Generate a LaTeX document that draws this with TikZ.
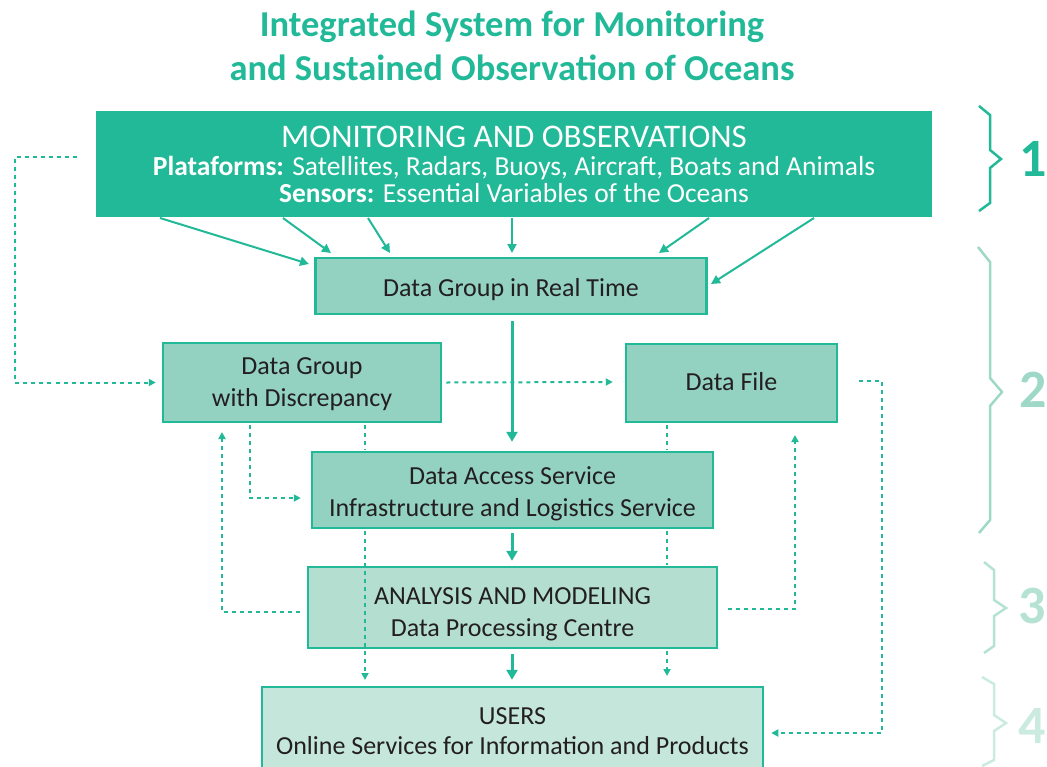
\documentclass[tikz,border=0pt]{standalone}
\usepackage{fontspec}
\setmainfont{Carlito}
\usetikzlibrary{arrows.meta,calc}
\definecolor{tealA}{HTML}{22B998}
\definecolor{boxB}{HTML}{93D2C0}
\definecolor{boxC}{HTML}{B4DFD0}
\definecolor{boxD}{HTML}{C5E7DB}
\definecolor{brB}{HTML}{9ED8C6}
\definecolor{brC}{HTML}{B6E2D4}
\definecolor{brD}{HTML}{CBEBE0}
\definecolor{txt}{HTML}{231F20}
\begin{document}
\begin{tikzpicture}[x=1pt,y=-1pt,
 box/.style={draw=tealA,line width=2.5pt,inner sep=0pt,align=center,text=txt,font=\fontsize{26}{31.5}\selectfont},
 boxtext/.style={inner sep=0pt,align=center,text=txt,font=\fontsize{26}{32}\selectfont},
 solidarr/.style={draw=tealA,line width=2pt,-{Triangle[length=9pt,width=9pt]}},
 mainarr/.style={draw=tealA,line width=3pt,-{Triangle[length=10pt,width=11pt]}},
 dotarr/.style={draw=tealA,line width=2pt,dash pattern=on 4pt off 4pt,-{Triangle[length=7pt,width=7pt]}},
 dotline/.style={draw=tealA,line width=2pt,dash pattern=on 4pt off 4pt},
 bracesty/.style={line width=2.5pt,line join=miter},
 numsty/.style={font=\fontsize{54}{56}\bfseries\selectfont},
 titlesty/.style={text=tealA,font=\fontsize{36.5}{40}\bfseries\selectfont}
]
\useasboundingbox (0,0) rectangle (1047,766);
\clip (0,0) rectangle (1047,766);

% title
\node[titlesty] (t1) at (512,27) {Integrated System for Monitoring};
\node[titlesty] (t2) at (512,68) {and Sustained Observation of Oceans};

% boxes
\node[fill=tealA,inner sep=0pt,minimum width=836pt,minimum height=106pt,align=center,text=white,font=\fontsize{27.5}{27}\selectfont] (top) at (514,164)
 {{\fontsize{33}{30}\selectfont MONITORING AND OBSERVATIONS}\\[1pt]
  \textbf{Plataforms:} Satellites, Radars, Buoys, Aircraft, Boats and Animals\\
  \textbf{Sensors:} Essential Variables of the Oceans};

\node[box,fill=boxB,minimum width=391pt,minimum height=56pt] (rt) at (511,286) {};
\node[box,fill=boxB,minimum width=278pt,minimum height=79pt] (disc) at (302,382.5) {};
\node[box,fill=boxB,minimum width=211pt,minimum height=78pt] (file) at (731.5,383) {};
\node[box,fill=boxB,minimum width=401pt,minimum height=76pt] (access) at (512.5,490) {};
\node[box,fill=boxC,minimum width=409pt,minimum height=81pt] (anal) at (512.5,607.5) {};
\node[box,fill=boxD,minimum width=501pt,minimum height=84pt] (users) at (512.5,729) {};

\node[boxtext] (rttext) at (511,290) {Data Group in Real Time};
\node[boxtext] (disctext) at (302,384.5) {Data Group\\with Discrepancy};
\node[boxtext] (filetext) at (731.5,382) {Data File};
\node[boxtext] (accesstext) at (512.5,494) {Data Access Service\\Infrastructure and Logistics Service};

% top arrows
\coordinate (s1) at (160,218); \coordinate (e1) at (309,264);
\coordinate (s2) at (283,218); \coordinate (e2) at (331,253);
\coordinate (s3) at (368,218); \coordinate (e3) at (390,253);
\coordinate (s4) at (512,218); \coordinate (e4) at (512,253);
\coordinate (s5) at (709,218); \coordinate (e5) at (659,253);
\coordinate (s6) at (814,218); \coordinate (e6) at (711,284);
\foreach \i in {1,...,6} {\draw[solidarr] (s\i) -- (e\i);}

% main vertical arrows
\draw[mainarr] ($(rt.south)+(1,6)$) -- ($(access.north)+(-0.5,-9)$);
\draw[mainarr] ($(access.south)+(-0.5,4)$) -- ($(anal.north)+(-0.5,-5)$);
\draw[mainarr] ($(anal.south)+(-0.5,5)$) -- ($(users.north)+(-0.5,-6)$);

% left feedback from top
\coordinate (lf1) at (77,157);
\coordinate (lf2) at (15,157);
\draw[dotarr] (lf1) -- (lf2) |- ($(disc.west)+(-6,0)$);

% disc -> file
\draw[dotarr] ($(disc.east)+(4,0)$) -- ($(file.west)+(-12,-1)$);

% disc -> access
\coordinate (da1) at (250,425);
\draw[dotarr] (da1) |- ($(access.west)+(-10,8)$);

% x=365 line
\draw[dotline] (365,425) -- (365,450);
% x=667 line
\draw[dotline] (667,425) -- (667,450);
\draw[dotline] (667,531) -- (667,565);
\draw[dotarr] (667,651) -- (667,676);

% left return
\coordinate (lr1) at (300,612);
\draw[dotarr] (lr1) -| (222,432);
% right return
\coordinate (rr1) at (728,609);
\draw[dotarr] (rr1) -| (795,435);
% far right
\coordinate (fr1) at (859,381);
\draw[dotarr] (fr1) -- (882,381) |- ($(users.east)+(7,4)$);

% line crossing analysis (on top)
\draw[dotarr] (365,531) -- (365,680);

% texts of lower boxes
\node[boxtext] (analtext) at (512.5,614) {ANALYSIS AND MODELING\\Data Processing Centre};
\node[boxtext,font=\fontsize{26}{30}\selectfont] (userstext) at (512.5,731) {USERS\\Online Services for Information and Products};

% braces
\draw[bracesty,tealA] (979,106) -- (990,115) -- (990,150) -- (1001,159) -- (990,168) -- (990,203) -- (979,211);
\node[numsty,text=tealA] (n1) at (1033,159) {1};
\draw[bracesty,brB] (978,247) -- (990,262) -- (990,378) -- (1002,392) -- (990,406) -- (990,520) -- (979,533);
\node[numsty,text=brB] (n2) at (1033,390) {2};
\draw[bracesty,brC] (984,562) -- (994,570) -- (994,600) -- (1006,608) -- (994,616) -- (994,646) -- (984,653);
\node[numsty,text=brC] (n3) at (1032,606) {3};
\draw[bracesty,brD] (982,677) -- (994,684) -- (994,715) -- (1006,723) -- (994,731) -- (994,760) -- (982,766);
\node[numsty,text=brD] (n4) at (1032,726) {4};
\end{tikzpicture}
\end{document}
